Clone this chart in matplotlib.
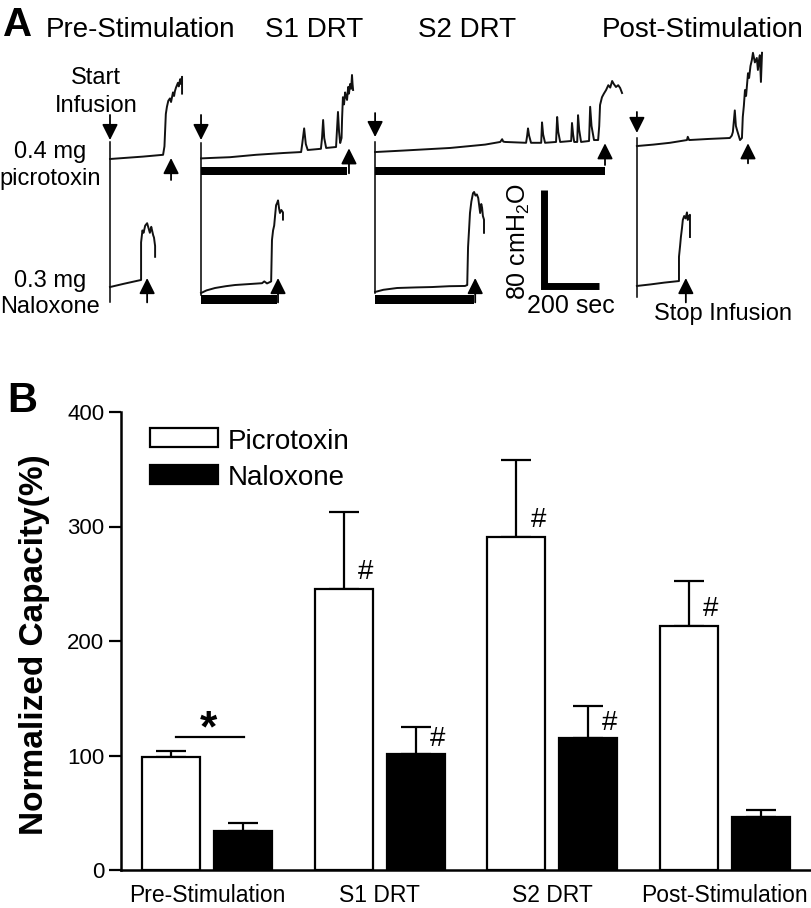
import matplotlib
matplotlib.use("Agg")
import matplotlib.pyplot as plt
from matplotlib.transforms import Affine2D
from matplotlib.patches import Rectangle
import numpy as np

plt.rcParams['font.family'] = ['Liberation Sans', 'DejaVu Sans']
plt.rcParams['mathtext.fontset'] = 'custom'
plt.rcParams['mathtext.rm'] = 'Liberation Sans'

# ---------------- Panel B data ----------------
categories = ['Pre-Stimulation', 'S1 DRT', 'S2 DRT', 'Post-Stimulation']
picrotoxin = [99, 245, 291, 213]
picrotoxin_err = [5, 68, 67, 39]
naloxone = [34, 101, 115, 46]
naloxone_err = [7, 24, 28, 6]
picrotoxin_sig = [False, True, True, True]
naloxone_sig = [False, True, True, False]
yticks = [0, 100, 200, 300, 400]

# ---------------- Panel A data (time s, pressure cmH2O) ----------------
column_titles = ['Pre-Stimulation', 'S1 DRT', 'S2 DRT', 'Post-Stimulation']
# picrotoxin traces (top row)
pre_pic_t = [0, 60, 120, 193, 198, 203, 207, 212, 218, 222, 229, 233, 236, 240, 247, 250, 255, 258, 262, 262]
pre_pic_p = [17.5, 18.5, 19.5, 21, 28, 55, 61, 66, 68, 65, 73, 70, 74, 77, 81, 78, 84, 80, 86, 72]
s1_pic_t = [0, 50, 105, 200, 300, 364, 368, 375, 381, 388, 436, 440, 444, 448, 455, 491, 494, 498, 502,
            506, 511, 513, 516, 520, 524, 527, 531, 535, 538, 542, 546, 549, 551, 553]
s1_pic_p = [18, 18.5, 19, 21, 22.5, 23.3, 30, 43, 30, 25, 26, 35, 50, 35, 26.7, 27.5, 40, 56.7, 40,
            30.8, 35, 51.7, 69, 63, 73, 70, 66.7, 77.5, 72, 80, 76, 87.5, 80, 75]
s2_pic_t = [0, 100, 273, 400, 455, 462, 466, 473, 549, 553, 556, 560, 567, 604, 607, 611, 618, 658, 662,
            666, 673, 713, 716, 720, 724, 735, 738, 742, 749, 778, 782, 787, 796, 811, 815, 818, 825,
            832, 840, 848, 855, 862, 868, 876, 884, 891, 898]
s2_pic_p = [23.3, 24.5, 26.7, 29.5, 31.7, 34, 32, 31.7, 31, 37, 43, 37, 31, 31, 48, 38, 31, 31.7, 52.5,
            40, 31.7, 32.5, 47.5, 38, 31.7, 31.7, 54, 42, 31.7, 32.5, 61, 45, 33.3, 33.3, 45, 62.5, 69,
            72, 75, 79, 77, 82.5, 80, 77.5, 79, 76.7, 72.5]
post_pic_t = [0, 60, 120, 182, 185, 190, 260, 338, 345, 349, 356, 360, 364, 375, 382, 385, 389, 393, 397,
              404, 408, 413, 418, 422, 429, 436, 440, 444, 447, 451, 455]
post_pic_p = [28.3, 29.5, 31, 33.3, 36, 33.3, 34.2, 35, 37, 40, 58, 45, 41.7, 33.3, 35, 52.5, 62, 75, 70,
              89, 85, 95, 100, 106, 98, 101.7, 91.7, 100, 104, 81.7, 106]
# naloxone traces (bottom row)
pre_nal_t = [0, 50, 113, 113, 118, 122, 128, 135, 140, 145, 150, 153, 157, 160, 164, 164]
pre_nal_p = [10.8, 13.5, 16.7, 48, 58, 56, 62, 64, 60, 56, 61, 58, 54, 52, 45, 36]
s1_nal_t = [0, 20, 51, 90, 124, 170, 222, 230, 240, 251, 255, 258, 262, 266, 270, 273, 277, 280, 284,
            287, 292, 298, 298]
s1_nal_p = [5.8, 8, 10, 11.5, 12.5, 13.2, 14, 15.5, 13.8, 15, 15.5, 50, 58, 62, 72, 79, 81, 83, 76,
            72.5, 75, 73, 67]
s2_nal_t = [0, 30, 80, 150, 207, 270, 327, 335, 338, 342, 345, 350, 356, 360, 365, 370, 375, 382, 386,
            389, 392, 396, 396]
s2_nal_p = [6.7, 8.5, 10, 10.5, 10.8, 11.5, 11.7, 12.5, 44, 60, 72.5, 82, 89, 90, 87, 88, 85, 72.5, 80,
            77, 70, 67, 56]
post_nal_t = [0, 50, 100, 153, 153, 157, 160, 164, 167, 172, 177, 182, 185, 189, 193, 193]
post_nal_p = [11.7, 13, 14.5, 15.8, 36, 45, 52.5, 60, 66.7, 70, 68, 73, 66.7, 70, 71, 52.5]

# stimulation durations (s) per column, and void times (s)
stim_pic = [0, 531, 836, 0]
stim_nal = [0, 276, 360, 0]
void_pic = [222, 538, 836, 404]
void_nal = [135, 280, 364, 178]
scale_sec = 200
scale_cm = 80

# ---------------- Layout ----------------
W, H = 812, 908
fig = plt.figure(figsize=(W / 100, H / 100), dpi=100)
PIX = Affine2D().scale(1 / W, -1 / H).translate(0, 1) + fig.transFigure

PX_PER_S = 0.275
PX_PER_CM = 1.2
axA = fig.add_axes([0, 1 - 330 / H, 1, 330 / H])
axA.set_xlim(0, W / PX_PER_S)
axA.set_ylim(0, 330 / PX_PER_CM)
axA.axis('off')

col_x = [400, 731, 1364, 2316]
top_base, bot_base = 125, 25
pic_traces = [(pre_pic_t, pre_pic_p), (s1_pic_t, s1_pic_p), (s2_pic_t, s2_pic_p), (post_pic_t, post_pic_p)]
nal_traces = [(pre_nal_t, pre_nal_p), (s1_nal_t, s1_nal_p), (s2_nal_t, s2_nal_p), (post_nal_t, post_nal_p)]
win_top = [156.7, 155.8, 156.7, 160]
win_bot = [23.3, 29, 30.8, 27.5]
down_tail = [179.2, 179.2, 180.8, 181.7]
down_tip = [158.3, 158.3, 160.8, 164.2]
up_pic_tip = [18.3, 26.4, 30.6, 30.6]
up_pic_tail = [0, 5.6, 12.5, 13.9]

arrowkw = dict(arrowstyle='-|>,head_length=0.5,head_width=0.25', mutation_scale=19,
               color='k', lw=1.3, shrinkA=0, shrinkB=0)

for i in range(4):
    x0 = col_x[i]
    # window line
    axA.plot([x0, x0], [win_bot[i], win_top[i]], color='k', lw=1.1)
    # traces
    t, p = pic_traces[i]
    axA.plot(x0 + np.array(t), top_base + np.array(p), color='#111111', lw=1.4)
    t, p = nal_traces[i]
    axA.plot(x0 + np.array(t), bot_base + np.array(p), color='#111111', lw=1.4)
    # stimulation bars
    if stim_pic[i] > 0:
        axA.barh(top_base + 7.5, stim_pic[i], left=x0, height=6.7, color='k')
    if stim_nal[i] > 0:
        axA.barh(bot_base + 0.8, stim_nal[i], left=x0, height=7.5, color='k')
    # start infusion arrows
    axA.annotate('', xy=(x0, down_tip[i]), xytext=(x0, down_tail[i]), arrowprops=arrowkw)
    # void arrows
    axA.annotate('', xy=(x0 + void_pic[i], top_base + up_pic_tip[i]),
                 xytext=(x0 + void_pic[i], top_base + up_pic_tail[i]), arrowprops=arrowkw)
    axA.annotate('', xy=(x0 + void_nal[i], bot_base + 18.3),
                 xytext=(x0 + void_nal[i], bot_base - 2), arrowprops=arrowkw)

# scale bar
sb_x, sb_y = 1978, 36.7
axA.plot([sb_x, sb_x, sb_x + scale_sec], [sb_y + scale_cm, sb_y, sb_y], color='k', lw=5,
         solid_joinstyle='miter', solid_capstyle='butt')

# panel A texts
fig.text(3, 36, 'A', transform=PIX, fontsize=29, fontweight='bold', va='baseline', ha='left')
title_x = [141, 314, 467, 703]
for tx, s in zip(title_x, column_titles):
    fig.text(tx, 37, s, transform=PIX, fontsize=20, ha='center', va='baseline')
fs = 17
fig.text(96, 84, 'Start', transform=PIX, fontsize=fs, ha='center', va='baseline')
fig.text(96, 112, 'Infusion', transform=PIX, fontsize=fs, ha='center', va='baseline')
fig.text(50, 158, '0.4 mg', transform=PIX, fontsize=fs, ha='center', va='baseline')
fig.text(50, 185, 'picrotoxin', transform=PIX, fontsize=fs, ha='center', va='baseline')
fig.text(50, 287, '0.3 mg', transform=PIX, fontsize=fs, ha='center', va='baseline')
fig.text(50, 313, 'Naloxone', transform=PIX, fontsize=fs, ha='center', va='baseline')
fig.text(519, 241, '80 cmH$_\\mathregular{2}$O', transform=PIX, fontsize=18, ha='center', va='center',
         rotation=90)
fig.text(571, 313, '200 sec', transform=PIX, fontsize=18, ha='center', va='baseline')
fig.text(723, 320, 'Stop Infusion', transform=PIX, fontsize=fs, ha='center', va='baseline')

# ---------------- Panel B ----------------
axB = fig.add_axes([121 / W, 1 - 870 / H, (W - 121) / W, (870 - 412) / H])
x = np.arange(len(categories))
bw = 0.336
off = 0.2087
axB.bar(x - off, picrotoxin, bw, color='white', edgecolor='black', linewidth=1.6, zorder=2)
axB.bar(x + off, naloxone, bw, color='black', edgecolor='black', linewidth=1.6, zorder=2)
axB.errorbar(x - off, picrotoxin, yerr=[np.zeros(4), picrotoxin_err], fmt='none', ecolor='black',
             elinewidth=1.6, capsize=10.8, capthick=1.6, zorder=1)
axB.errorbar(x + off, naloxone, yerr=[np.zeros(4), naloxone_err], fmt='none', ecolor='black',
             elinewidth=1.6, capsize=10.8, capthick=1.6, zorder=1)
for i in range(4):
    if picrotoxin_sig[i]:
        axB.text(x[i] - off + 0.13, picrotoxin[i] + 15, '#', fontsize=20, ha='center', va='center')
    if naloxone_sig[i]:
        axB.text(x[i] + off + 0.125, naloxone[i] + 13, '#', fontsize=20, ha='center', va='center')
# significance between groups in Pre-Stimulation
axB.plot([-0.18, 0.214], [116.5, 116.5], color='black', lw=1.6)
axB.text(0.006, 112, '*', fontsize=32, fontweight='bold', ha='center', va='baseline')

axB.set_xlim(-0.4986, 3.507)
axB.set_ylim(0, 400)
axB.set_yticks(yticks)
axB.set_xticks(x)
axB.set_xticklabels(categories, fontsize=16.5)
axB.tick_params(axis='x', length=0, pad=10)
axB.tick_params(axis='y', length=8.5, width=1.6, labelsize=16, pad=3.5, direction='out')
for s in ['top', 'right']:
    axB.spines[s].set_visible(False)
for s in ['left', 'bottom']:
    axB.spines[s].set_linewidth(1.8)
axB.set_ylabel('Normalized Capacity(%)', fontsize=24, fontweight='bold')
axB.yaxis.set_label_coords(-0.1027, 0.491)

# legend drawn manually
axB.add_patch(Rectangle((0.042, 0.9236), 0.0984, 0.0415, transform=axB.transAxes, facecolor='white',
                        edgecolor='black', lw=1.6, clip_on=False))
axB.add_patch(Rectangle((0.042, 0.8428), 0.0984, 0.0415, transform=axB.transAxes, facecolor='black',
                        edgecolor='black', lw=1.6, clip_on=False))
axB.text(0.155, 0.919, 'Picrotoxin', transform=axB.transAxes, fontsize=20, va='baseline', ha='left')
axB.text(0.155, 0.8406, 'Naloxone', transform=axB.transAxes, fontsize=20, va='baseline', ha='left')

fig.text(7, 412, 'B', transform=PIX, fontsize=30, fontweight='bold', va='baseline', ha='left')

fig.savefig('out.png', dpi=100)
